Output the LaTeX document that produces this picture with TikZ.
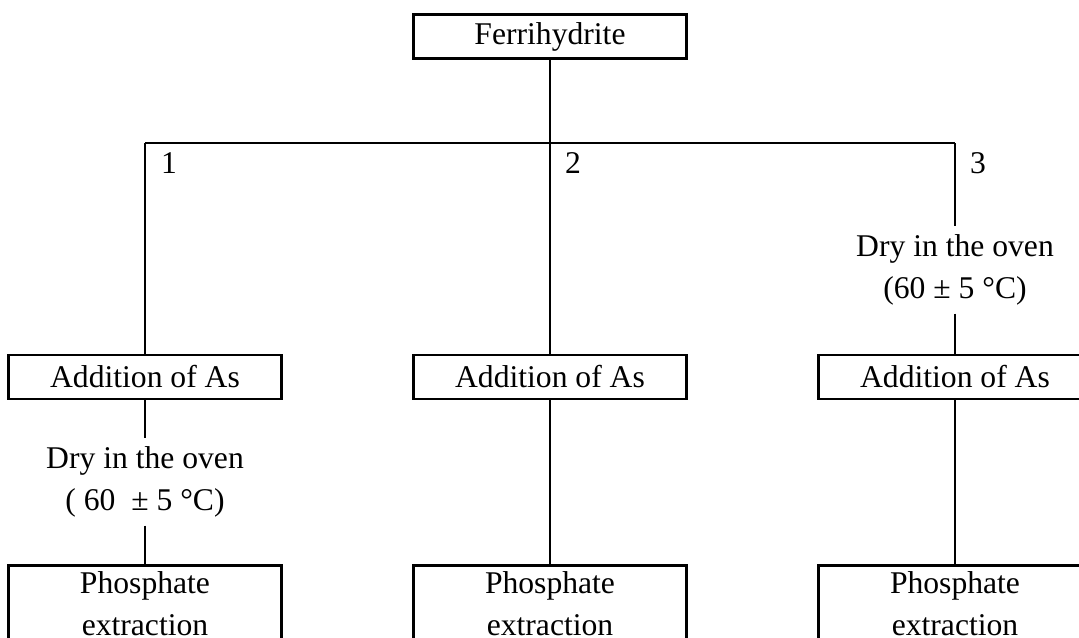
\documentclass[tikz,border=0pt]{standalone}
\usepackage{fontspec}
\setmainfont{Liberation Serif}
\begin{document}
\begin{tikzpicture}[x=0.02cm,y=-0.02cm,line width=1.4pt,
    font=\fontsize{18}{24}\selectfont,
    box/.style={draw,minimum width=5.46cm,minimum height=0.88cm,inner sep=0pt},
    lowbox/.style={draw,text width=5.46cm,align=center,
      inner sep=0pt,minimum height=1.54cm},
    oven/.style={align=center,minimum height=1.7cm,inner sep=0pt}]
      \useasboundingbox (0,0) rectangle (1079,637);
      \draw
        (550,36.5) node[box] (0){Ferrihydrite}
        (145,377) node[box] (a1){Addition of As}
        (550,377) node[box] (a2){Addition of As}
        (955,377) node[box] (a3){Addition of As}
        (145,482) node[oven] (d1){Dry in the oven\\( 60 \ ± 5 °C)}
        (955,270) node[oven] (d3){Dry in the oven\\(60 ± 5 °C)}
        (145,604) node[lowbox] (p1){Phosphate\\extraction}
        (550,604) node[lowbox] (p2){Phosphate\\extraction}
        (955,604) node[lowbox] (p3){Phosphate\\extraction}
        (169,163) node (l1){1}
        (573,163) node (l2){2}
        (978,163) node (l3){3};
      \coordinate (j) at (550,143);
      \coordinate (j1) at (145,143);
      \coordinate (j3) at (955,143);
      \begin{scope}[-]
        \draw (0) to (j);
        \draw (j1) to (j3);
        \draw (j1) to (a1);
        \draw (j) to (a2);
        \draw (j3) to (d3);
        \draw (d3) to (a3);
        \draw (a1) to (d1);
        \draw (d1) to (p1);
        \draw (a2) to (p2);
        \draw (a3) to (p3);
      \end{scope}
    \end{tikzpicture}
\end{document}
